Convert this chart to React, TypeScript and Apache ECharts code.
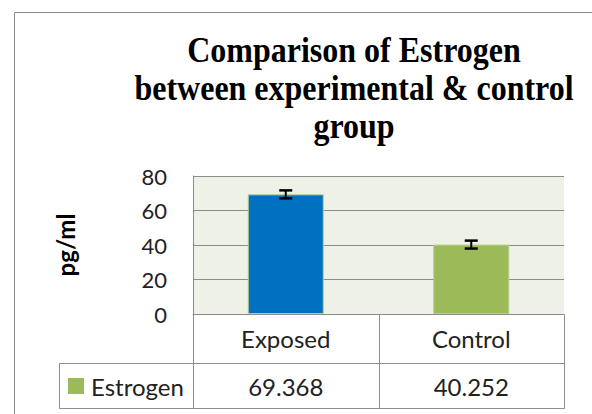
import React, { useEffect, useRef } from "react";
import * as echarts from "echarts";

const categories = ["Exposed", "Control"];
const estrogenValues = [69.368, 40.252];
const errorValues = [2.3, 2.3];
const yTicks = [0, 20, 40, 60, 80];
const seriesName = "Estrogen";
const yAxisTitle = "pg/ml";
const titleLines = ["Comparison of Estrogen", "between experimental & control", "group"];

const BAR_COLORS = ["#0070C0", "#9BBB59"];
const LEGEND_COLOR = "#9BBB59";
const LINE_COLOR = "#8c8c8c";
const TEXT_COLOR = "#222222";
const SANS = "Lato";

export default function App() {
  const ref = useRef<HTMLDivElement>(null);

  useEffect(() => {
    const chart = echarts.init(ref.current!, null, { renderer: "svg" });
    const option: any = {
      animation: false,
      backgroundColor: "#ffffff",
      grid: {
        left: 193,
        top: 176,
        width: 371,
        height: 138,
        show: true,
        backgroundColor: "#eef2e6",
        borderWidth: 0,
        containLabel: false,
        outerBoundsMode: "none",
      },
      xAxis: {
        type: "category",
        data: categories,
        axisLine: { show: true, lineStyle: { color: LINE_COLOR, width: 1 } },
        axisTick: { show: false },
        axisLabel: { fontFamily: SANS, fontSize: 24, color: TEXT_COLOR, margin: 12 },
        splitLine: { show: false },
      },
      yAxis: {
        type: "value",
        min: yTicks[0],
        max: yTicks[yTicks.length - 1],
        interval: yTicks[1] - yTicks[0],
        axisLine: { show: true, lineStyle: { color: LINE_COLOR, width: 1 } },
        axisTick: { show: false },
        axisLabel: { fontFamily: SANS, fontSize: 22, color: TEXT_COLOR, margin: 26 },
        splitLine: { show: true, lineStyle: { color: LINE_COLOR, width: 1 } },
        name: yAxisTitle,
        nameLocation: "middle",
        nameRotate: 90,
        nameGap: 116,
        nameTextStyle: { fontFamily: SANS, fontWeight: "bold", fontSize: 24, color: "#000" },
      },
      series: [
        {
          type: "bar",
          name: seriesName,
          data: estrogenValues.map((v, i) => ({ value: v, itemStyle: { color: BAR_COLORS[i] } })),
          barWidth: 76,
          itemStyle: { borderColor: "#b9cd8f", borderWidth: 1 },
          z: 2,
        },
        {
          type: "custom",
          z: 10,
          data: categories.map((c, i) => [i, estrogenValues[i], errorValues[i]]),
          encode: { x: 0, y: 1 },
          renderItem: (params: any, api: any) => {
            const x = api.value(0);
            const v = api.value(1);
            const e = api.value(2);
            const hi = api.coord([x, v + e]);
            const lo = api.coord([x, v - e]);
            const hw = 6.5;
            const st = { stroke: "#000", lineWidth: 2 };
            return {
              type: "group",
              children: [
                { type: "line", shape: { x1: hi[0], y1: hi[1], x2: lo[0], y2: lo[1] }, style: st },
                { type: "line", shape: { x1: hi[0] - hw, y1: hi[1], x2: hi[0] + hw, y2: hi[1] }, style: { stroke: "#000", lineWidth: 2.5 } },
                { type: "line", shape: { x1: lo[0] - hw, y1: lo[1], x2: lo[0] + hw, y2: lo[1] }, style: { stroke: "#000", lineWidth: 2.5 } },
              ],
            };
          },
        },
      ],
    };
    chart.setOption(option);

    const c0 = chart.convertToPixel({ xAxisIndex: 0 }, categories[0]) as number;
    const c1 = chart.convertToPixel({ xAxisIndex: 0 }, categories[1]) as number;
    const band = c1 - c0;
    const left = Math.round(c0 - band / 2) + 0.5;
    const mid = Math.round(c0 + band / 2) + 0.5;
    const right = Math.round(c1 + band / 2) + 0.5;
    const y0 = Math.round(chart.convertToPixel({ yAxisIndex: 0 }, 0) as number) + 0.5;
    const rowA = y0 + 49;
    const rowB = rowA + 45;
    const legLeft = 59.5;
    const rowMid = (rowA + rowB) / 2;
    const ls = { stroke: LINE_COLOR, lineWidth: 1 };
    const centers = [c0, c1];

    const graphic: any[] = [
      { type: "rect", shape: { x: 14.5, y: 12.5, width: 700, height: 500 }, style: { fill: "none", stroke: "#8a8a8a", lineWidth: 1 }, silent: true },
      { type: "line", shape: { x1: left, y1: y0, x2: left, y2: rowB }, style: ls },
      { type: "line", shape: { x1: mid, y1: y0, x2: mid, y2: rowB }, style: ls },
      { type: "line", shape: { x1: right, y1: y0, x2: right, y2: rowB }, style: ls },
      { type: "line", shape: { x1: legLeft, y1: rowA, x2: right, y2: rowA }, style: ls },
      { type: "line", shape: { x1: legLeft, y1: rowB, x2: right, y2: rowB }, style: ls },
      { type: "line", shape: { x1: legLeft, y1: rowA, x2: legLeft, y2: rowB }, style: ls },
      { type: "rect", shape: { x: 68, y: rowMid - 8, width: 16, height: 16 }, style: { fill: LEGEND_COLOR } },
      {
        type: "text",
        x: 91,
        y: rowMid,
        style: { text: seriesName, font: `24px ${SANS}`, fill: TEXT_COLOR, textAlign: "left", textVerticalAlign: "middle" },
      },
      ...estrogenValues.map((v, i) => ({
        type: "text",
        x: centers[i],
        y: rowMid,
        style: { text: String(v), font: `24px ${SANS}`, fill: TEXT_COLOR, textAlign: "center", textVerticalAlign: "middle" },
      })),
      ...titleLines.map((t, i) => ({
        type: "text",
        x: 354,
        y: 50 + i * 38,
        scaleY: 1.1,
        style: {
          text: t,
          font: `bold 32px "Liberation Serif"`,
          fill: "#000",
          textAlign: "center",
          textVerticalAlign: "middle",
        },
      })),
    ];
    chart.setOption({ graphic });

    return () => chart.dispose();
  }, []);

  return (
    <div
      ref={ref}
      style={{ position: "fixed", left: 0, top: 0, width: 592, height: 414, background: "#fff" }}
    />
  );
}
